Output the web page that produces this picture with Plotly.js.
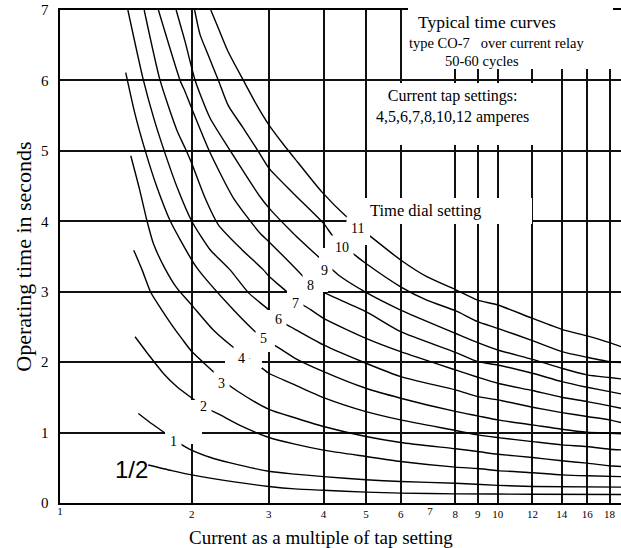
<!DOCTYPE html>
<html><head><meta charset="utf-8">
<script src="https://cdn.plot.ly/plotly-3.0.1.min.js"></script>
<style>html,body{margin:0;padding:0;background:#fff;overflow:hidden}#chart{width:621px;height:548px}</style>
</head><body><div id="chart"></div>
<script>
// ---------- data ----------
const gridX = [2, 3, 4, 5, 6, 8, 9, 10, 12, 14, 16, 18];   // vertical grid + labels
const extraTickX = [1, 7];                                 // labels without grid line
const ticksY = [0, 1, 2, 3, 4, 5, 6, 7];
const xMax = 19.12;

const curveNames = ['1/2', '1', '2', '3', '4', '5', '6', '7', '8', '9', '10', '11'];

const x_half = [1.59, 1.8, 2.0, 2.5, 3.0, 3.44, 4.0, 5.0, 6.0, 8.0, 12.0, 19.12];
const y_half = [0.54, 0.46, 0.40, 0.30, 0.235, 0.20, 0.18, 0.155, 0.14, 0.13, 0.125, 0.12];

const x_1 = [1.51, 1.6, 1.74, 1.82, 1.97, 2.2, 2.45, 3.0, 3.44, 4.0, 5.0, 6.0, 8.0, 10.0, 12.0, 19.12];
const y_1 = [1.27, 1.15, 0.99, 0.90, 0.77, 0.65, 0.57, 0.45, 0.41, 0.375, 0.33, 0.305, 0.28, 0.25, 0.235, 0.225];

const x_2 = [1.484, 1.6, 1.723, 1.85, 2.0, 2.13, 2.3, 2.6, 3.0, 3.44, 4.0, 5.0, 6.0, 8.0, 9.0, 10.0, 12.0, 14.0, 16.0, 19.12];
const y_2 = [2.36, 2.09, 1.84, 1.65, 1.49, 1.37, 1.265, 1.09, 0.93, 0.835, 0.75, 0.66, 0.59, 0.51, 0.49, 0.46, 0.43, 0.40, 0.386, 0.375];

const x_3 = [1.474, 1.54, 1.609, 1.70, 1.80, 1.9, 2.0, 2.24, 2.33, 2.556, 3.0, 3.44, 4.0, 5.0, 6.0, 8.0, 9.0, 10.0, 12.0, 14.0, 16.0, 18.0, 19.12];
const y_3 = [3.59, 3.31, 3.0, 2.76, 2.53, 2.33, 2.15, 1.865, 1.76, 1.58, 1.33, 1.21, 1.086, 0.944, 0.859, 0.77, 0.731, 0.693, 0.646, 0.599, 0.566, 0.528, 0.518];

const x_4 = [1.451, 1.52, 1.581, 1.635, 1.73, 1.85, 2.0, 2.24, 2.534, 2.865, 3.0, 3.44, 4.0, 5.0, 6.0, 8.0, 9.0, 10.0, 12.0, 14.0, 16.0, 18.0, 19.12];
const y_4 = [4.93, 4.45, 4.0, 3.68, 3.35, 3.05, 2.81, 2.457, 2.173, 1.936, 1.842, 1.677, 1.497, 1.298, 1.18, 1.03, 0.967, 0.929, 0.872, 0.825, 0.802, 0.764, 0.755];

const x_5 = [1.413, 1.48, 1.566, 1.664, 1.787, 2.0, 2.071, 2.4, 2.765, 2.915, 3.128, 3.444, 4.0, 5.0, 6.0, 8.0, 9.0, 10.0, 12.0, 14.0, 16.0, 18.0, 19.12];
const y_5 = [6.11, 5.55, 5.0, 4.49, 4.0, 3.45, 3.31, 2.85, 2.457, 2.34, 2.22, 2.055, 1.866, 1.629, 1.488, 1.30, 1.237, 1.18, 1.109, 1.047, 1.005, 0.99, 0.981];

const x_6 = [1.429, 1.551, 1.64, 1.73, 1.86, 2.0, 2.2, 2.446, 2.7, 3.0, 3.15, 3.413, 4.0, 5.0, 6.0, 8.0, 9.0, 10.0, 12.0, 14.0, 16.0, 18.0, 19.12];
const y_6 = [7.0, 6.0, 5.45, 5.0, 4.45, 4.0, 3.6, 3.31, 2.98, 2.74, 2.6, 2.48, 2.244, 1.984, 1.795, 1.606, 1.511, 1.464, 1.36, 1.284, 1.228, 1.18, 1.142];

const x_7 = [1.557, 1.693, 1.85, 1.931, 2.0, 2.145, 2.3, 2.6, 2.915, 3.0, 3.296, 3.444, 3.727, 4.0, 5.0, 6.0, 8.0, 9.0, 10.0, 12.0, 14.0, 16.0, 18.0, 19.12];
const y_7 = [7.0, 6.0, 5.29, 5.04, 4.82, 4.33, 3.95, 3.6, 3.31, 3.22, 3.0, 2.88, 2.75, 2.622, 2.338, 2.149, 1.89, 1.786, 1.70, 1.597, 1.502, 1.44, 1.379, 1.346];

const x_8 = [1.678, 1.881, 1.931, 2.0, 2.2, 2.49, 2.865, 3.0, 3.567, 3.727, 4.0, 5.0, 6.0, 8.0, 9.0, 10.0, 12.0, 14.0, 16.0, 18.0, 19.12];
const y_8 = [7.0, 6.0, 5.84, 5.6, 4.98, 4.33, 3.83, 3.71, 3.237, 3.1, 2.99, 2.717, 2.433, 2.14, 2.007, 1.96, 1.842, 1.724, 1.644, 1.582, 1.549];

const x_9 = [1.842, 1.931, 2.036, 2.2, 2.45, 2.865, 3.0, 3.413, 3.893, 4.325, 5.0, 6.0, 8.0, 9.0, 10.0, 12.0, 14.0, 16.0, 18.0, 19.12];
const y_9 = [7.0, 6.55, 6.0, 5.47, 5.0, 4.348, 4.19, 3.828, 3.496, 3.237, 2.99, 2.74, 2.41, 2.277, 2.173, 2.04, 1.913, 1.819, 1.781, 1.762];

const x_10 = [2.03, 2.089, 2.164, 2.301, 2.42, 2.624, 2.84, 3.0, 3.413, 4.0, 4.213, 4.721, 5.0, 6.0, 6.884, 8.0, 9.0, 10.0, 12.0, 14.0, 16.0, 18.0, 19.12];
const y_10 = [7.0, 6.65, 6.41, 6.0, 5.65, 5.32, 4.99, 4.755, 4.396, 3.97, 3.78, 3.52, 3.40, 3.07, 2.88, 2.73, 2.575, 2.48, 2.305, 2.15, 2.07, 2.007, 1.993];

const x_11 = [2.21, 2.30, 2.42, 2.624, 2.815, 3.0, 3.25, 3.413, 3.963, 4.558, 5.155, 6.0, 6.884, 8.0, 9.0, 10.0, 12.0, 14.0, 16.0, 18.0, 19.12];
const y_11 = [7.0, 6.74, 6.41, 6.0, 5.65, 5.37, 5.08, 4.915, 4.418, 4.041, 3.771, 3.45, 3.213, 3.03, 2.88, 2.811, 2.622, 2.466, 2.372, 2.277, 2.22];

// curve label positions (data units)
const labelX = [1.459, 1.816, 2.125, 2.34, 2.60, 2.915, 3.15, 3.444, 3.727, 4.03, 4.40, 4.77];
const labelY = [0.47, 0.872, 1.369, 1.70, 2.055, 2.339, 2.60, 2.835, 3.095, 3.308, 3.63, 3.90];

const titleLines = ['Typical time curves', 'type CO-7\u00a0\u00a0\u00a0over current relay', '50-60 cycles'];
const tapLines = ['Current tap settings:', '4,5,6,7,8,10,12 amperes'];
const dialText = 'Time dial setting';
const xTitle = 'Current as a multiple of tap setting';
const yTitle = 'Operating time in seconds';

// ---------- drawing ----------
const curveXs = [x_half, x_1, x_2, x_3, x_4, x_5, x_6, x_7, x_8, x_9, x_10, x_11];
const curveYs = [y_half, y_1, y_2, y_3, y_4, y_5, y_6, y_7, y_8, y_9, y_10, y_11];

const W = 621, H = 548, ML = 60, MR = 0, MT = 10, MB = 45;
const PW = W - ML - MR, PH = H - MT - MB;
const px2x = px => (px - ML) / PW;
const py2y = py => (H - MB - py) / PH;

const SERIF = 'Liberation Serif, Times New Roman, serif';

const traces = curveXs.map((xs, i) => ({
  type: 'scatter', mode: 'lines', x: xs, y: curveYs[i], name: curveNames[i],
  xaxis: i === 0 ? 'x2' : 'x', yaxis: 'y',
  line: {color: '#000', width: 1.4, shape: 'spline', smoothing: 0.6},
  hoverinfo: 'skip'
}));

const mask = (x0, x1, y0, y1) => ({
  type: 'rect', xref: 'paper', yref: 'paper', layer: 'above',
  x0: px2x(x0), x1: px2x(x1), y0: py2y(y1), y1: py2y(y0),
  fillcolor: '#fff', line: {width: 0}
});

const shapes = [
  mask(408, 613, 2, 69),     // title box
  mask(368, 556, 83, 145),   // tap settings box
  mask(349, 532, 198, 224),  // time dial box
  mask(187, 197, 400, 444),  // gaps in grid around labels
  mask(165, 202, 428, 437),
  mask(225, 262, 359, 368),
  mask(265, 275, 310, 352),
  mask(287, 323, 288, 296),
  mask(319, 328, 248, 292),
  mask(360, 370, 200, 245)
];

const txt = (text, px, py, size) => ({
  text: text, xref: 'paper', yref: 'paper', x: px2x(px), y: py2y(py),
  xanchor: 'center', yanchor: 'middle', showarrow: false,
  font: {family: SERIF, size: size, color: '#000'}
});

const annotations = [
  txt(titleLines[0], 487, 22, 17.5),
  txt(titleLines[1], 496.7, 42.5, 14.5),
  txt(titleLines[2], 482, 61, 14.5),
  txt(tapLines.join('<br>'), 452.5, 106.5, 16),
  txt(dialText, 425.8, 211, 16.5),
  txt(xTitle, 321, 537, 19)
];

curveNames.forEach((n, i) => {
  const isHalf = i === 0;
  annotations.push({
    text: n, xref: 'x', yref: 'y', x: Math.log10(labelX[i]), y: labelY[i],
    xanchor: 'center', yanchor: 'middle', showarrow: false,
    bgcolor: isHalf ? 'rgba(0,0,0,0)' : '#fff', borderpad: isHalf ? 0 : 4,
    font: isHalf ? {family: 'Liberation Sans, Arial, sans-serif', size: 24, color: '#000'}
                 : {family: SERIF, size: 14, color: '#000'}
  });
});

const axisFontX = {family: SERIF, size: 11, color: '#000'};
const xr = [0, Math.log10(xMax)];
const GRID = '#111';

const layout = {
  width: W, height: H,
  margin: {l: ML, r: MR, t: MT, b: MB, pad: 0},
  paper_bgcolor: '#fff', plot_bgcolor: '#fff',
  showlegend: false,
  xaxis: {
    type: 'log', range: xr, tickmode: 'array', tickvals: gridX, ticktext: gridX.map(String),
    showgrid: true, gridcolor: GRID, gridwidth: 2, zeroline: false,
    showline: true, linecolor: '#000', linewidth: 2, mirror: true,
    ticks: '', tickfont: axisFontX, fixedrange: true
  },
  xaxis2: {
    type: 'log', range: xr, overlaying: 'x', anchor: 'y', side: 'bottom',
    tickmode: 'array', tickvals: extraTickX, ticktext: extraTickX.map(String),
    showgrid: false, zeroline: false, showline: false, ticks: '', tickfont: axisFontX, fixedrange: true
  },
  yaxis: {
    range: [0, 7], tickmode: 'array', tickvals: ticksY, ticktext: ticksY.map(String),
    showgrid: true, gridcolor: GRID, gridwidth: 2, zeroline: false,
    showline: true, linecolor: '#000', linewidth: 2.5,
    ticks: '', ticklabelstandoff: 6,
    tickfont: {family: SERIF, size: 15, color: '#000'},
    title: {text: yTitle, font: {family: SERIF, size: 22, color: '#000'}, standoff: 4},
    fixedrange: true
  },
  shapes: shapes,
  annotations: annotations
};

Plotly.newPlot('chart', traces, layout, {staticPlot: true, displayModeBar: false});
</script>
</body></html>
